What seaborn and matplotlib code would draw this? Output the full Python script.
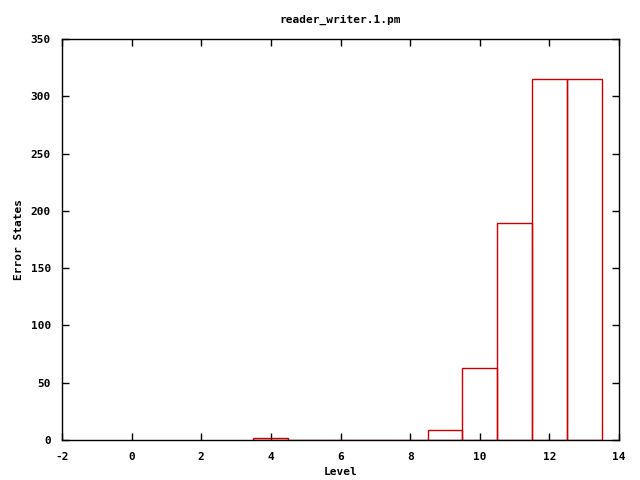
import numpy as np
import pandas as pd
import matplotlib
matplotlib.use("Agg")
import matplotlib.pyplot as plt
import seaborn as sns

levels = [4, 9, 10, 11, 12, 13]
error_states = [2, 9, 63, 189, 315, 315]

df = pd.DataFrame({"Level": levels, "Error States": error_states})

sns.set_style("ticks")
plt.rcParams["font.family"] = ["DejaVu Sans Mono"]
plt.rcParams["font.weight"] = "bold"
plt.rcParams["font.size"] = 8
plt.rcParams["axes.unicode_minus"] = False
plt.rcParams["text.color"] = "black"
plt.rcParams["axes.labelcolor"] = "black"
plt.rcParams["xtick.color"] = "black"
plt.rcParams["ytick.color"] = "black"

fig = plt.figure(figsize=(6.4, 4.8), dpi=100)
ax = fig.add_axes([62 / 640, 40 / 480, 557 / 640, 401 / 480])

sns.histplot(data=df, x="Level", weights="Error States", discrete=True,
             fill=False, element="bars", color="#cc0000", linewidth=1.0, ax=ax)

ax.set_xlim(-2, 14)
ax.set_ylim(0, 350)
ax.set_xticks(np.arange(-2, 15, 2))
ax.set_yticks(np.arange(0, 351, 50))
ax.tick_params(direction="in", top=True, right=True, length=5, width=1, labelsize=8)
ax.tick_params(axis="x", pad=9)
ax.tick_params(axis="y", pad=8)
for s in ax.spines.values():
    s.set_visible(True)
    s.set_linewidth(1.0)
    s.set_color("black")

ax.set_xlabel("Level", fontsize=8, fontweight="bold", labelpad=3)
ax.set_ylabel("Error States", fontsize=8, fontweight="bold", labelpad=5)
ax.set_title("reader_writer.1.pm", fontsize=8, fontweight="bold", pad=12)

plt.savefig("out.png", dpi=100)
